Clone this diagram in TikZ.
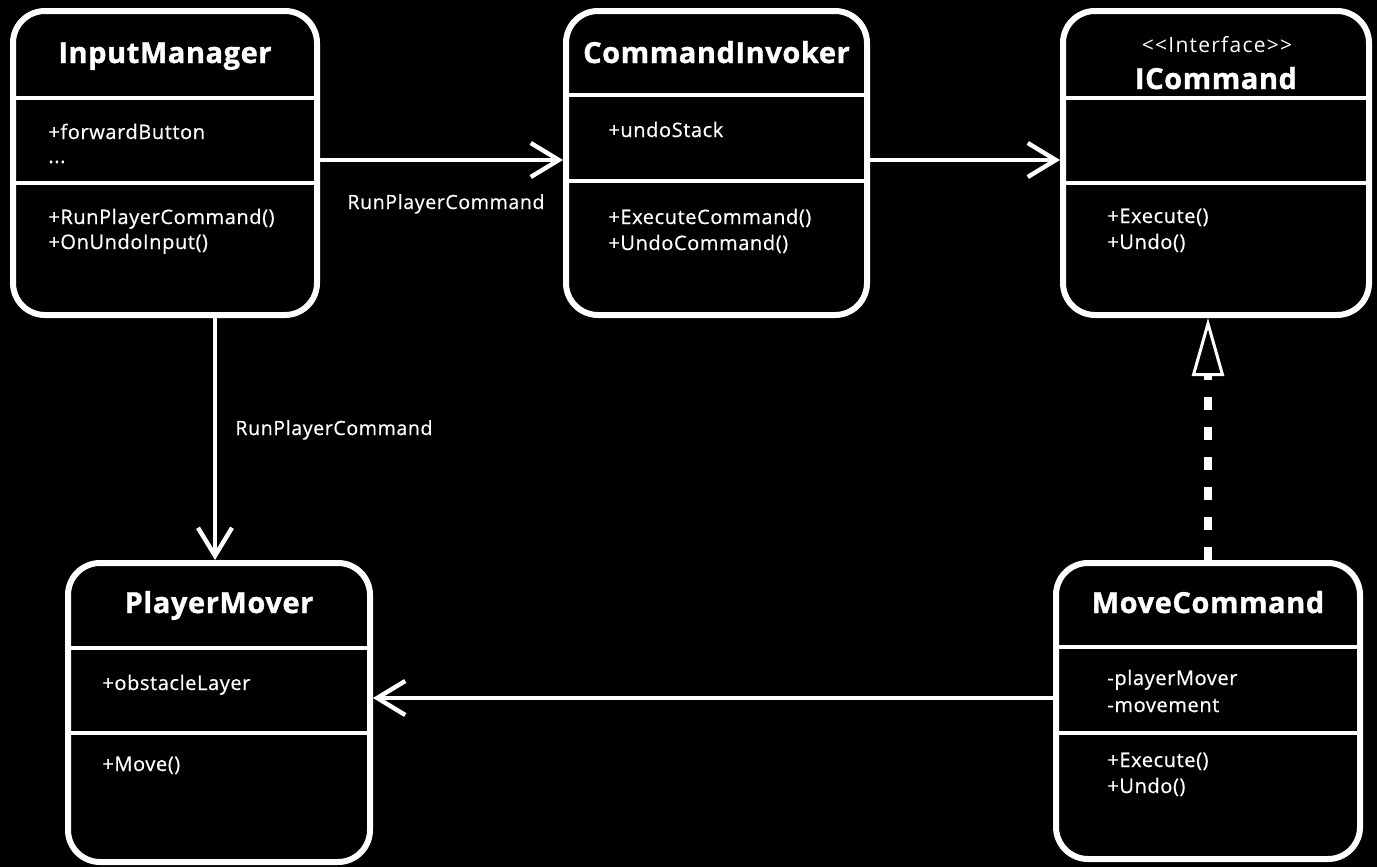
\documentclass[tikz,border=0pt]{standalone}
\usepackage{fontspec}
\setmainfont{Open Sans}
\newfontfamily\bodyfont{Open Sans}[FakeBold=0.6, LetterSpace=3]
\newfontfamily\stereofont{Open Sans}[LetterSpace=6]
\newfontfamily\titlefont{Open Sans}[BoldFeatures={FakeBold=1.2}, LetterSpace=2]
\usetikzlibrary{arrows.meta}
\begin{document}
\begin{tikzpicture}[x=0.5pt,y=-0.5pt,
  cls/.style={draw=white, line width=3pt, rounded corners=16pt, fill=black, inner sep=0pt},
  div/.style={draw=white, line width=1.6pt},
  title/.style={text=white, font=\titlefont\bfseries\fontsize{14.5pt}{16pt}\selectfont, anchor=base, inner sep=0pt},
  stereo/.style={text=white, font=\stereofont\fontsize{10.5pt}{12pt}\selectfont, anchor=base, inner sep=0pt},
  member/.style={text=white, font=\bodyfont\fontsize{10pt}{12pt}\selectfont, anchor=base west, inner sep=0pt},
  lbl/.style={text=white, font=\bodyfont\fontsize{9.8pt}{12pt}\selectfont, anchor=base west, inner sep=0pt},
  assoc/.style={draw=white, line width=2.2pt, -{Straight Barb[length=14pt,width=17pt]}},
  realize/.style={draw=white, line width=4pt, dash pattern=on 6.5pt off 8.5pt,
    -{Triangle[open,length=29pt,width=16pt,line width=1.5pt]}},
]
\fill[black] (0,0) rectangle (1377,867);
\useasboundingbox (0,0) rectangle (1377,867);

% class boxes
\node[cls, minimum width=152pt, minimum height=152pt] (im) at (165,163) {};
\node[cls, minimum width=150.5pt, minimum height=152pt] (ci) at (716.5,163) {};
\node[cls, minimum width=153pt, minimum height=152pt] (ic) at (1216,163) {};
\node[cls, minimum width=151pt, minimum height=149.5pt] (pm) at (219,712.5) {};
\node[cls, minimum width=152pt, minimum height=148pt] (mc) at (1208,711) {};

% compartment separators
\draw[div] (im.west |- 0,98) -- (im.east |- 0,98);
\draw[div] (im.west |- 0,183) -- (im.east |- 0,183);
\draw[div] (ci.west |- 0,95) -- (ci.east |- 0,95);
\draw[div] (ci.west |- 0,181) -- (ci.east |- 0,181);
\draw[div] (ic.west |- 0,98) -- (ic.east |- 0,98);
\draw[div] (ic.west |- 0,183) -- (ic.east |- 0,183);
\draw[div] (pm.west |- 0,648) -- (pm.east |- 0,648);
\draw[div] (pm.west |- 0,733) -- (pm.east |- 0,733);
\draw[div] (mc.west |- 0,647) -- (mc.east |- 0,647);
\draw[div] (mc.west |- 0,733) -- (mc.east |- 0,733);

% InputManager
\node[title] (im-t) at (165,63) {InputManager};
\node[member] (im-a1) at (48,139) {+forwardButton};
\node[member] (im-a2) at (48,163) {...};
\node[member] (im-m1) at (48,224) {+RunPlayerCommand()};
\node[member] (im-m2) at (48,249) {+OnUndoInput()};

% CommandInvoker
\node[title] (ci-t) at (716.5,63) {CommandInvoker};
\node[member] (ci-a1) at (608,137) {+undoStack};
\node[member] (ci-m1) at (608,224) {+ExecuteCommand()};
\node[member] (ci-m2) at (608,250) {+UndoCommand()};

% ICommand
\node[stereo] (ic-s) at (1217,53) {{<}{<}Interface{>}{>}};
\node[title] (ic-t) at (1216,89) {ICommand};
\node[member] (ic-m1) at (1107,223) {+Execute()};
\node[member] (ic-m2) at (1107,249) {+Undo()};

% PlayerMover
\node[title] (pm-t) at (219,613) {PlayerMover};
\node[member] (pm-a1) at (102,690) {+obstacleLayer};
\node[member] (pm-m1) at (102,771) {+Move()};

% MoveCommand
\node[title] (mc-t) at (1208,613) {MoveCommand};
\node[member] (mc-a1) at (1107,685) {-playerMover};
\node[member] (mc-a2) at (1107,712) {-movement};
\node[member] (mc-m1) at (1107,767) {+Execute()};
\node[member] (mc-m2) at (1107,793) {+Undo()};

% connectors
\draw[assoc] (im.east |- 0,160) -- (ci.west |- 0,160);
\draw[assoc] (ci.east |- 0,160) -- (ic.west |- 0,160);
\draw[assoc] (im.south -| 215,0) -- (pm.north -| 215,0);
\draw[assoc] (mc.west |- 0,698) -- (pm.east |- 0,698);
\draw[realize] (mc.north -| 1208,0) -- (ic.south -| 1208,0);

% connector labels
\node[lbl] (l1) at (347,209) {RunPlayerCommand};
\node[lbl] (l2) at (235,435) {RunPlayerCommand};
\end{tikzpicture}
\end{document}
